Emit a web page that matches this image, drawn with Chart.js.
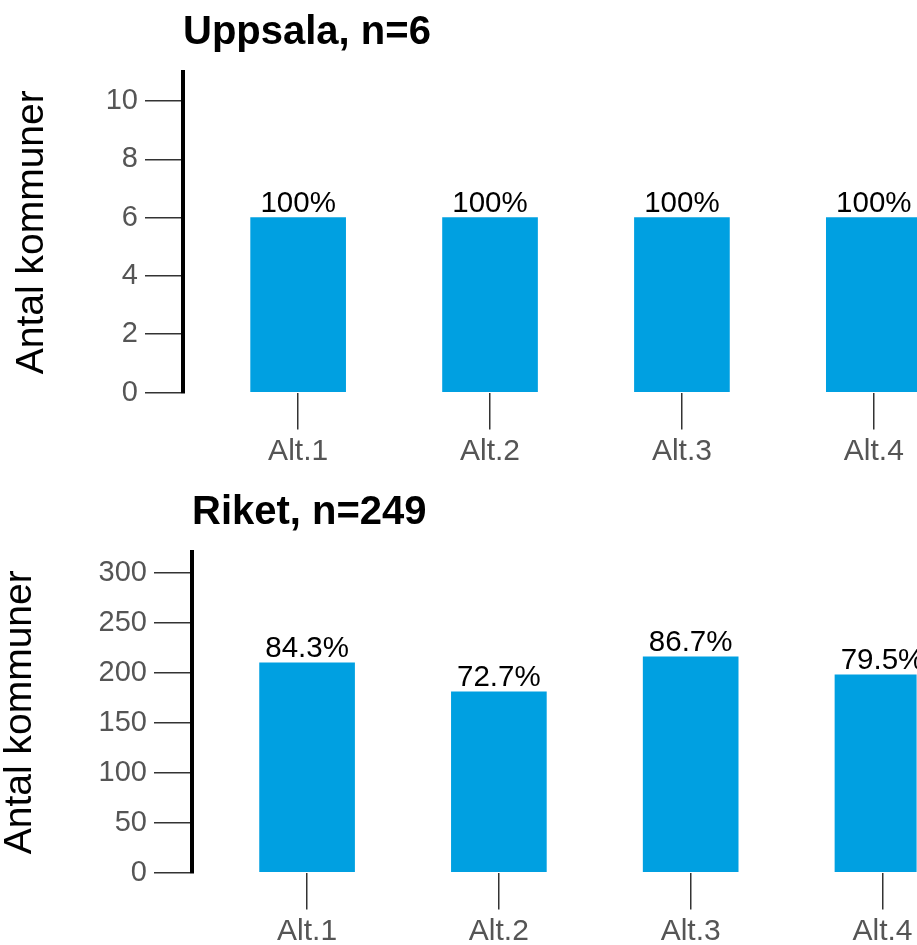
<!DOCTYPE html>
<html>
<head>
<meta charset="utf-8">
<script src="https://cdn.jsdelivr.net/npm/chart.js@4/dist/chart.umd.min.js"></script>
<style>
  html, body { margin: 0; padding: 0; background: #fff; overflow: hidden; width: 917px; height: 945px; }
  canvas { display: block; }
</style>
</head>
<body>
<canvas id="c1" width="917" height="480"></canvas>
<canvas id="c2" width="917" height="480"></canvas>
<script>
// ---- data ----
const categories = ['Alt.1', 'Alt.2', 'Alt.3', 'Alt.4'];

const uppsalaTitle = 'Uppsala, n=6';
const uppsalaValues = [6, 6, 6, 6];
const uppsalaLabels = ['100%', '100%', '100%', '100%'];
const uppsalaTicks = [0, 2, 4, 6, 8, 10];
const uppsalaMax = 11;

const riketTitle = 'Riket, n=249';
const riketValues = [210, 181, 216, 198];
const riketLabels = ['84.3%', '72.7%', '86.7%', '79.5%'];
const riketTicks = [0, 50, 100, 150, 200, 250, 300];
const riketMax = 321;

const yTitle = 'Antal kommuner';

// ---- drawing ----
const FONT = '"Liberation Sans", Arial, Helvetica, sans-serif';
const BLUE = '#00A0E1';

const barLabels = {
  id: 'barLabels',
  afterDatasetsDraw(chart, args, opts) {
    const ctx = chart.ctx;
    const meta = chart.getDatasetMeta(0);
    ctx.save();
    ctx.font = '29.5px ' + FONT;
    ctx.fillStyle = '#000';
    ctx.textAlign = 'center';
    ctx.textBaseline = 'alphabetic';
    meta.data.forEach((el, i) => {
      ctx.fillText(opts.labels[i], el.x, el.y - 6);
    });
    ctx.restore();
  }
};

function makeChart(id, title, values, labels, yTicks, yMax, yWidth, xMax, yTitlePad) {
  return new Chart(document.getElementById(id), {
    type: 'bar',
    data: {
      datasets: [{
        data: categories.map((c, i) => ({ x: i, y: values[i] })),
        backgroundColor: BLUE,
        borderWidth: 0,
        barThickness: 95
      }]
    },
    plugins: [barLabels],
    options: {
      responsive: false,
      animation: false,
      events: [],
      layout: { padding: 0 },
      plugins: {
        legend: { display: false },
        tooltip: { enabled: false },
        barLabels: { labels: labels },
        title: {
          display: true,
          text: title,
          align: 'start',
          fullSize: false,
          color: '#000',
          font: { family: FONT, size: 40, weight: 'bold', lineHeight: 1.2 },
          padding: { top: 8.8, bottom: 15.2 }
        }
      },
      scales: {
        x: {
          type: 'linear',
          offset: false,
          min: -0.6,
          max: xMax,
          afterBuildTicks: (s) => { s.ticks = categories.map((c, i) => ({ value: i })); },
          afterFit: (s) => { s.height = 87.5; },
          ticks: {
            callback: (v) => categories[v],
            color: '#555',
            font: { family: FONT, size: 30 },
            padding: 4.5,
            maxRotation: 0,
            autoSkip: false
          },
          grid: {
            offset: false,
            drawOnChartArea: false,
            drawTicks: true,
            tickLength: 37,
            color: '#333',
            lineWidth: 1.5
          },
          border: { display: false }
        },
        y: {
          type: 'linear',
          position: 'left',
          min: 0,
          max: yMax,
          afterBuildTicks: (s) => { s.ticks = yTicks.map(v => ({ value: v })); },
          afterFit: (s) => { s.width = yWidth; },
          ticks: {
            color: '#555',
            font: { family: FONT, size: 29 },
            padding: 7
          },
          grid: {
            drawOnChartArea: false,
            drawTicks: true,
            tickLength: 38,
            color: '#333',
            lineWidth: 1.5
          },
          border: { display: true, color: '#000', width: 4 },
          title: {
            display: true,
            text: yTitle,
            color: '#000',
            font: { family: FONT, size: 39, lineHeight: 1 },
            padding: { top: yTitlePad, bottom: 0 }
          }
        }
      }
    }
  });
}

makeChart('c1', uppsalaTitle, uppsalaValues, uppsalaLabels, uppsalaTicks, uppsalaMax, 183, 3.225, 12.3);
makeChart('c2', riketTitle, riketValues, riketLabels, riketTicks, riketMax, 192, 3.178, 0.6);
</script>
</body>
</html>
